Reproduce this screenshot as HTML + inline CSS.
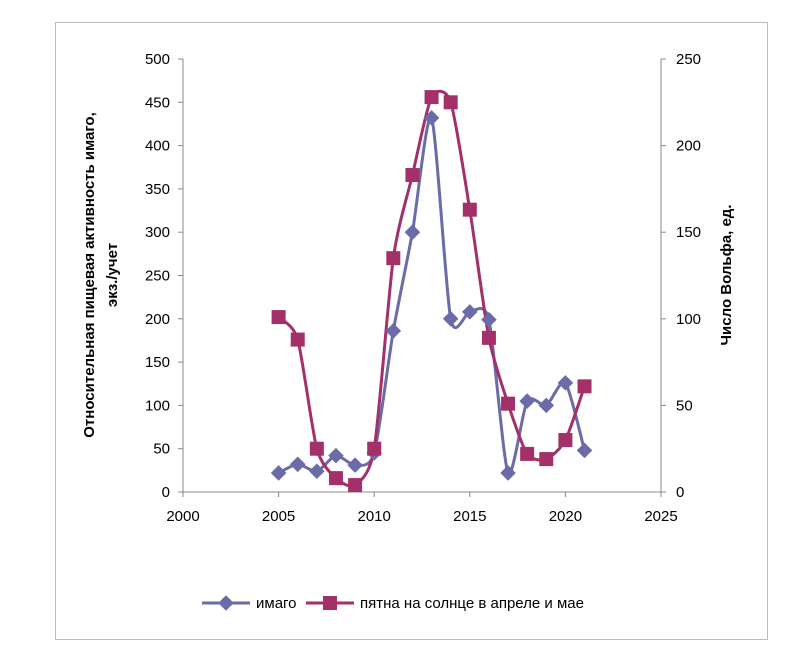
<!DOCTYPE html>
<html><head><meta charset="utf-8"><style>
body{margin:0;background:#fff;font-family:"Liberation Sans",sans-serif}
svg text{font-family:"Liberation Sans",sans-serif;fill:#000}
</style></head><body>
<svg id="c" width="797" height="662">
<rect x="55.5" y="22.5" width="712" height="617" fill="#fff" stroke="#bbb"/>
<g id="g"></g>
</svg>
<script>
const years=[2005,2006,2007,2008,2009,2010,2011,2012,2013,2014,2015,2016,2017,2018,2019,2020,2021];
const imago=[22,32,24,42,31,45,186,300,432,200,208,199,22,105,100,126,48];
const spots=[101,88,25,8,4,25,135,183,228,225,163,89,51,22,19,30,61];
const xTicks=[2000,2005,2010,2015,2020,2025];
const yLeftTicks=[0,50,100,150,200,250,300,350,400,450,500];
const yRightTicks=[0,50,100,150,200,250];
const NS='http://www.w3.org/2000/svg',g=document.getElementById('g');
const X=v=>183+(v-2000)*(661-183)/25, YL=v=>492-v*(492-59)/500, YR=v=>492-v*(492-59)/250;
function mk(t,a,p){const e=document.createElementNS(NS,t);for(const k in a)e.setAttribute(k,a[k]);(p||g).appendChild(e);return e;}
function tx(x,y,s,anchor,extra){const e=mk('text',Object.assign({x:x,y:y,'font-size':15,'text-anchor':anchor},extra||{}));e.textContent=s;return e;}
let e=mk('line',{x1:183,y1:59,x2:183,y2:492,stroke:'#888'});
e=mk('line',{x1:661,y1:59,x2:661,y2:492,stroke:'#888'});
e=mk('line',{x1:183,y1:492,x2:661,y2:492,stroke:'#888'});
xTicks.forEach(v=>{mk('line',{x1:X(v),y1:492,x2:X(v),y2:497,stroke:'#888'});e=tx(X(v),521,String(v),'middle');});
yLeftTicks.forEach(v=>{mk('line',{x1:178,y1:YL(v),x2:183,y2:YL(v),stroke:'#888'});e=tx(170,YL(v)+5,String(v),'end');});
yRightTicks.forEach(v=>{mk('line',{x1:661,y1:YR(v),x2:666,y2:YR(v),stroke:'#888'});e=tx(676,YR(v)+5,String(v),'start');});
e=tx(0,0,'Относительная пищевая активность имаго,','middle',{'font-weight':'bold',transform:'translate(94,275) rotate(-90)'});
e=tx(0,0,'экз./учет','middle',{'font-weight':'bold',transform:'translate(117,275) rotate(-90)'});
e=tx(0,0,'Число Вольфа, ед.','middle',{'font-weight':'bold',transform:'translate(731,275) rotate(-90)'});
function smooth(pts){let d='M'+pts[0][0]+','+pts[0][1];for(let i=0;i<pts.length-1;i++){const p0=pts[i-1]||pts[i],p1=pts[i],p2=pts[i+1],p3=pts[i+2]||p2;const t=0.12;d+=' C'+(p1[0]+(p2[0]-p0[0])*t)+','+(p1[1]+(p2[1]-p0[1])*t)+' '+(p2[0]-(p3[0]-p1[0])*t)+','+(p2[1]-(p3[1]-p1[1])*t)+' '+p2[0]+','+p2[1];}return d;}
const ci='#6b6ba8',cs='#a33068';
const pi=years.map((y,i)=>[X(y),YL(imago[i])]),ps=years.map((y,i)=>[X(y),YR(spots[i])]);
e=mk('path',{d:smooth(pi),fill:'none',stroke:ci,'stroke-width':3});
e=mk('path',{d:smooth(ps),fill:'none',stroke:cs,'stroke-width':3});
pi.forEach(p=>{e=mk('rect',{x:p[0]-5.5,y:p[1]-5.5,width:11,height:11,fill:ci,transform:`rotate(45 ${p[0]} ${p[1]})`});});
ps.forEach(p=>{e=mk('rect',{x:p[0]-7,y:p[1]-7,width:14,height:14,fill:cs});});
e=mk('line',{x1:202,y1:603,x2:250,y2:603,stroke:ci,'stroke-width':3});
mk('rect',{x:220.5,y:597.5,width:11,height:11,fill:ci,transform:'rotate(45 226 603)'});
e=tx(256,608,'имаго','start');
e=mk('line',{x1:306,y1:603,x2:354,y2:603,stroke:cs,'stroke-width':3});
mk('rect',{x:323,y:596,width:14,height:14,fill:cs});
e=tx(360,608,'пятна на солнце в апреле и мае','start');
</script>
</body></html>
